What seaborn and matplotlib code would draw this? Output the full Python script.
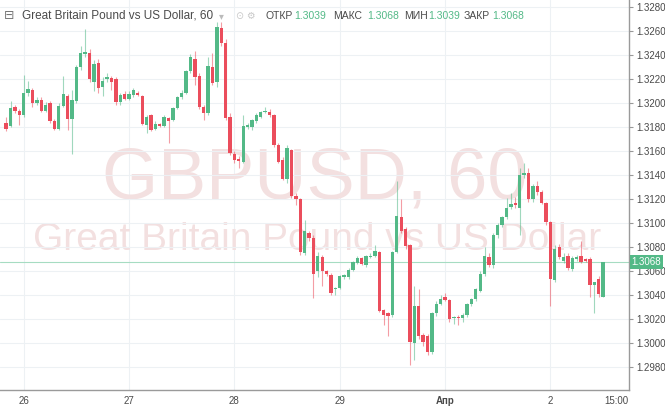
import matplotlib
matplotlib.use('Agg')
import matplotlib.pyplot as plt
import numpy as np
import pandas as pd
import seaborn as sns

sns.set_style('white')
plt.rcParams['font.family'] = ['Liberation Sans', 'DejaVu Sans']

# hourly GBPUSD candles
opens = [1.3184, 1.3181, 1.3197, 1.3194, 1.3190, 1.3209, 1.3211, 1.3200, 1.3203, 1.3194,
         1.3200, 1.3185, 1.3179, 1.3198, 1.3206, 1.3187, 1.3202, 1.3230, 1.3241, 1.3242,
         1.3218, 1.3234, 1.3214, 1.3220, 1.3221, 1.3220, 1.3201, 1.3208, 1.3204, 1.3207,
         1.3209, 1.3206, 1.3182, 1.3190, 1.3179, 1.3183, 1.3181, 1.3188, 1.3186, 1.3196,
         1.3205, 1.3209, 1.3227, 1.3237, 1.3223, 1.3197, 1.3192, 1.3230, 1.3218, 1.3263,
         1.3250, 1.3189, 1.3158, 1.3154, 1.3151, 1.3180, 1.3180, 1.3185, 1.3189, 1.3193,
         1.3193, 1.3190, 1.3165, 1.3153, 1.3137, 1.3161, 1.3123, 1.3120, 1.3075, 1.3092,
         1.3088, 1.3060, 1.3072, 1.3060, 1.3057, 1.3045, 1.3046, 1.3055, 1.3055, 1.3061,
         1.3067, 1.3071, 1.3065, 1.3072, 1.3073, 1.3076, 1.3028, 1.3025, 1.3024, 1.3076,
         1.3105, 1.3095, 1.3082, 1.3000, 1.3031, 1.3007, 1.3006, 1.2993, 1.3025, 1.3033,
         1.3039, 1.3036, 1.3021, 1.3022, 1.3021, 1.3024, 1.3033, 1.3037, 1.3044, 1.3058,
         1.3072, 1.3065, 1.3090, 1.3099, 1.3105, 1.3114, 1.3117, 1.3113, 1.3140, 1.3142,
         1.3120, 1.3131, 1.3126, 1.3117, 1.3101, 1.3053, 1.3080, 1.3069, 1.3073, 1.3062,
         1.3070, 1.3073, 1.3070, 1.3070, 1.3049, 1.3054, 1.3039]
highs = [1.3189, 1.3202, 1.3199, 1.3195, 1.3224, 1.3219, 1.3213, 1.3205, 1.3205, 1.3201,
         1.3202, 1.3187, 1.3200, 1.3223, 1.3208, 1.3211, 1.3232, 1.3248, 1.3262, 1.3245,
         1.3236, 1.3237, 1.3222, 1.3225, 1.3223, 1.3222, 1.3209, 1.3210, 1.3210, 1.3213,
         1.3210, 1.3207, 1.3190, 1.3191, 1.3185, 1.3184, 1.3190, 1.3189, 1.3197, 1.3206,
         1.3211, 1.3228, 1.3241, 1.3244, 1.3225, 1.3199, 1.3239, 1.3242, 1.3268, 1.3268,
         1.3254, 1.3192, 1.3160, 1.3156, 1.3190, 1.3184, 1.3187, 1.3192, 1.3194, 1.3197,
         1.3195, 1.3191, 1.3167, 1.3155, 1.3165, 1.3162, 1.3125, 1.3121, 1.3103, 1.3094,
         1.3090, 1.3076, 1.3074, 1.3061, 1.3059, 1.3047, 1.3057, 1.3058, 1.3063, 1.3069,
         1.3073, 1.3072, 1.3074, 1.3075, 1.3082, 1.3077, 1.3029, 1.3026, 1.3077, 1.3135,
         1.3120, 1.3097, 1.3083, 1.3048, 1.3045, 1.3009, 1.3008, 1.3026, 1.3035, 1.3040,
         1.3042, 1.3037, 1.3023, 1.3024, 1.3025, 1.3034, 1.3038, 1.3046, 1.3060, 1.3080,
         1.3075, 1.3092, 1.3100, 1.3106, 1.3121, 1.3125, 1.3122, 1.3146, 1.3150, 1.3146,
         1.3133, 1.3135, 1.3128, 1.3118, 1.3102, 1.3082, 1.3083, 1.3075, 1.3075, 1.3073,
         1.3074, 1.3085, 1.3071, 1.3072, 1.3051, 1.3056, 1.3068]
lows = [1.3177, 1.3180, 1.3192, 1.3182, 1.3189, 1.3206, 1.3197, 1.3199, 1.3193, 1.3193,
        1.3184, 1.3178, 1.3178, 1.3197, 1.3178, 1.3158, 1.3200, 1.3228, 1.3239, 1.3218,
        1.3210, 1.3209, 1.3206, 1.3218, 1.3211, 1.3199, 1.3199, 1.3203, 1.3203, 1.3205,
        1.3206, 1.3182, 1.3175, 1.3177, 1.3178, 1.3180, 1.3180, 1.3167, 1.3185, 1.3195,
        1.3204, 1.3208, 1.3225, 1.3215, 1.3195, 1.3186, 1.3190, 1.3215, 1.3214, 1.3248,
        1.3186, 1.3157, 1.3150, 1.3146, 1.3150, 1.3179, 1.3178, 1.3184, 1.3188, 1.3192,
        1.3189, 1.3164, 1.3150, 1.3136, 1.3134, 1.3121, 1.3115, 1.3074, 1.3074, 1.3085,
        1.3038, 1.3055, 1.3048, 1.3056, 1.3040, 1.3040, 1.3045, 1.3054, 1.3054, 1.3060,
        1.3066, 1.3065, 1.3064, 1.3071, 1.3072, 1.3026, 1.3015, 1.3006, 1.3022, 1.3075,
        1.3092, 1.3079, 1.2982, 1.2986, 1.3004, 1.2998, 1.2990, 1.2991, 1.3023, 1.3032,
        1.3035, 1.3018, 1.3016, 1.3015, 1.3018, 1.3022, 1.3031, 1.3035, 1.3043, 1.3056,
        1.3064, 1.3063, 1.3088, 1.3097, 1.3104, 1.3112, 1.3113, 1.3090, 1.3138, 1.3118,
        1.3118, 1.3124, 1.3116, 1.3099, 1.3031, 1.3051, 1.3070, 1.3067, 1.3061, 1.3060,
        1.3069, 1.3067, 1.3068, 1.3039, 1.3025, 1.3039, 1.3039]
closes = [1.3179, 1.3196, 1.3194, 1.3190, 1.3209, 1.3212, 1.3200, 1.3203, 1.3194, 1.3199,
          1.3185, 1.3179, 1.3198, 1.3208, 1.3187, 1.3203, 1.3230, 1.3242, 1.3243, 1.3220,
          1.3233, 1.3213, 1.3219, 1.3222, 1.3218, 1.3201, 1.3207, 1.3204, 1.3208, 1.3211,
          1.3207, 1.3183, 1.3189, 1.3178, 1.3183, 1.3181, 1.3189, 1.3185, 1.3196, 1.3205,
          1.3209, 1.3227, 1.3239, 1.3222, 1.3197, 1.3192, 1.3231, 1.3217, 1.3264, 1.3250,
          1.3188, 1.3159, 1.3153, 1.3152, 1.3181, 1.3182, 1.3186, 1.3190, 1.3193, 1.3194,
          1.3190, 1.3165, 1.3151, 1.3137, 1.3163, 1.3123, 1.3120, 1.3076, 1.3094, 1.3088,
          1.3058, 1.3073, 1.3060, 1.3058, 1.3042, 1.3046, 1.3056, 1.3057, 1.3061, 1.3068,
          1.3071, 1.3066, 1.3073, 1.3073, 1.3077, 1.3027, 1.3024, 1.3023, 1.3076, 1.3106,
          1.3094, 1.3081, 1.3001, 1.3031, 1.3006, 1.3001, 1.2993, 1.3025, 1.3033, 1.3037,
          1.3036, 1.3020, 1.3022, 1.3021, 1.3024, 1.3033, 1.3037, 1.3045, 1.3058, 1.3073,
          1.3065, 1.3090, 1.3099, 1.3105, 1.3113, 1.3116, 1.3115, 1.3140, 1.3142, 1.3120,
          1.3131, 1.3126, 1.3117, 1.3101, 1.3054, 1.3079, 1.3072, 1.3072, 1.3063, 1.3071,
          1.3072, 1.3068, 1.3069, 1.3049, 1.3051, 1.3041, 1.3068]

month_names = {4: 'Апр'}
up_color = '#53b987'
down_color = '#eb4d5c'

# hourly bars, weekend skipped
times = pd.date_range('2019-03-25 20:00', periods=24 * 10, freq='h')
times = times[times.dayofweek < 5][:len(opens)]
df = pd.DataFrame({'time': times, 'open': opens, 'high': highs,
                   'low': lows, 'close': closes})
df['x'] = np.arange(len(df))
df['up'] = df['close'] >= df['open']
df['color'] = np.where(df['up'], up_color, down_color)

fig = plt.figure(figsize=(6.65, 4.07), dpi=100)
ax = fig.add_axes([0, 17 / 407, 629 / 665, 1 - 17 / 407])

# day ticks
midnight = df[df['time'].dt.hour == 0]
tick_pos = list(midnight['x'])
tick_lab = [month_names.get(t.month, str(t.day)) if t.day == 1 else str(t.day)
            for t in midnight['time']]
tick_pos.append(midnight['x'].iloc[-1] + 15)
tick_lab.append('15:00')

for p in midnight['x']:
    ax.axvline(p, color='#edf1f4', lw=0.8, zorder=0)
ax.grid(axis='y', color='#edf1f4', lw=0.8)
ax.set_axisbelow(True)

# watermark
ax.text(315 / 665, 1 - 198 / 407, 'GBPUSD, 60', transform=fig.transFigure,
        ha='center', va='baseline', fontsize=52, color='#f3e0e0', zorder=0.5)
ax.text(317 / 665, 1 - 250 / 407, 'Great Britain Pound vs US Dollar',
        transform=fig.transFigure, ha='center', va='baseline', fontsize=28,
        color='#f3e0e0', zorder=0.5)

# candles
ax.vlines(df['x'], df['low'], df['high'], colors=df['color'], lw=0.8,
          alpha=0.55, zorder=2)
body_low = df[['open', 'close']].min(axis=1)
body_h = (df['close'] - df['open']).abs().clip(lower=0.00006)
ax.bar(df['x'], body_h, bottom=body_low, width=0.76, color=df['color'],
       linewidth=0, zorder=3)

last = df.iloc[-1]
ax.axhline(last['close'], color='#a6dcc2', lw=0.8, zorder=1)
ax.text(1.004, last['close'], f"{last['close']:.4f}", transform=ax.get_yaxis_transform(),
        ha='left', va='center', fontsize=7, color='white', clip_on=False,
        bbox=dict(boxstyle='square,pad=0.2', fc=up_color, ec='none'), zorder=5)

ax.set_xlim(-1.4, 141.9)
ax.set_ylim(1.296125, 1.328625)
ax.yaxis.tick_right()
yt = np.arange(1.2980, 1.32801, 0.002)
ax.set_yticks(yt)
ax.set_yticklabels([f'{v:.4f}' for v in yt])
ax.set_xticks(tick_pos)
ax.set_xticklabels(tick_lab)
for lab in ax.get_xticklabels():
    if lab.get_text() in month_names.values():
        lab.set_fontweight('bold')
ax.tick_params(axis='y', direction='out', length=3, width=0.8, color='#999999',
               labelsize=7, labelcolor='#4a4a4a', pad=2)
ax.tick_params(axis='x', direction='out', length=3, width=0.8, color='#999999',
               labelsize=7, labelcolor='#4a4a4a', pad=1)
for s in ['left', 'top']:
    ax.spines[s].set_visible(False)
for s in ['right', 'bottom']:
    ax.spines[s].set_color('#9a9a9a')
    ax.spines[s].set_linewidth(1)

# header legend
def head(x, txt, color='#4a4a4a', size=7.5):
    fig.text(x / 665, 1 - 19 / 407, txt, ha='left', va='baseline',
             fontsize=size, color=color, zorder=6)

head(4, '⊟', '#777777', 9)
head(22, 'Great Britain Pound vs US Dollar, 60', size=8.5)
head(219, '▾', '#bbbbbb', 7)
head(236, '⊙ ⚙', '#c8c8c8', 7)
vals = [('ОТКР', last['open'], 265, 294), ('МАКС', last['high'], 333, 367),
        ('МИН', last['low'], 404, 428), ('ЗАКР', last['close'], 464, 492)]
for name, v, x1, x2 in vals:
    head(x1, name)
    head(x2, f'{v:.4f}', up_color)

fig.savefig('out.png', dpi=100)
